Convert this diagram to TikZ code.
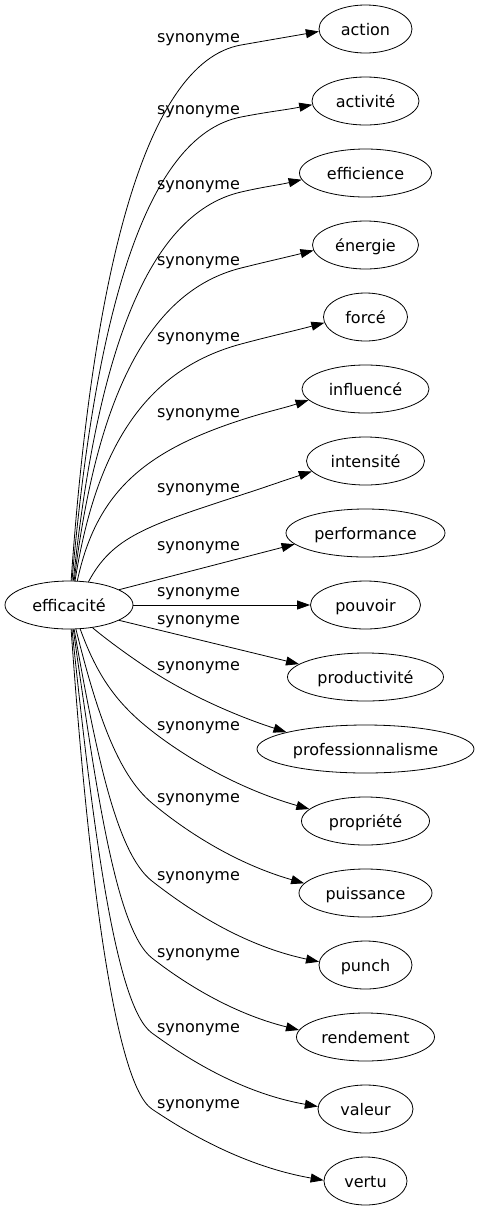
\documentclass[tikz,border=0pt]{standalone}
\usepackage{fontspec}
\setmainfont{DejaVu Sans}
\usetikzlibrary{arrows.meta,calc,shapes.geometric}

\begin{document}
\begin{tikzpicture}[x=1pt, y=1pt,
    word/.style={ellipse, draw, line width=0.8pt, inner sep=0pt,
                 minimum height=48pt, text height=15pt, text depth=3pt,
                 font=\fontsize{16}{19}\selectfont},
    lbl/.style={inner sep=0pt, font=\fontsize{16}{19}\selectfont},
    edge/.style={-{Triangle[length=13pt,width=9pt]}, line width=0.8pt}]
  \useasboundingbox (0,0) rectangle (479,-1211);
  % central word
  \node[word, minimum width=128pt] (src) at (69,-605) {efficacité};
  % synonyms, one row every 72pt
  \foreach \i/\txt/\w in {0/action/93, 1/activité/107, 2/efficience/132,
      3/énergie/106, 4/forcé/84, 5/influencé/127, 6/intensité/118,
      7/performance/159, 8/pouvoir/110, 9/productivité/156,
      10/professionnalisme/217, 11/propriété/128, 12/puissance/133,
      13/punch/93, 14/rendement/138, 15/valeur/95, 16/vertu/83}{
    \node[word, minimum width=\w pt] (t\i) at (365.5,-29-72*\i) {\txt};
  }
  % edges going up
  \foreach \i/\ly/\sa/\ao/\ta/\ea in {0/40/85/86/10/183, 1/112/83/85/11/184,
      2/187/80/84/13/186, 3/263/78/83/14/186, 4/339/76/81/15/188,
      5/415/71/78/18/191, 6/490/50/62/18/191}{
    \pgfmathsetmacro\dout{0.55*(582-\ly)}
    \pgfmathsetmacro\tin{180+\ta}
    \node[lbl] (l\i) at (198.5,-\ly) {synonyme};
    \draw[edge] (src.\sa) .. controls +(\ao:\dout pt) and +(\tin:100pt)
      .. ($(l\i.east)+(1,-5)$) to[out=\ta, in=\tin] (t\i.\ea);
  }
  % nearly straight edges
  \foreach \i/\ly/\sa/\ea in {7/548/17/189, 8/594/0/180, 9/622/-17/169}{
    \node[lbl] (l\i) at (198.5,-\ly) {synonyme};
    \draw[edge] (src.\sa) -- (t\i.\ea);
  }
  % edges going down
  \foreach \i/\ly/\sa/\ao/\tw/\ta/\ea in {10/668/-44/-40/-33/18/168,
      11/728/-65/-70/-38/16/168, 12/800/-74/-76/-40/16/171,
      13/878/-78/-80/-38/12/176, 14/955/-80/-82/-38/14/174,
      15/1030/-83/-84/-36/10/177, 16/1106/-85/-86/-34/10/179}{
    \pgfmathsetmacro\dout{0.5*(\ly-628)}
    \pgfmathsetmacro\din{min(45,0.6*(\ly-628))}
    \pgfmathsetmacro\back{180+\tw}
    \pgfmathsetmacro\tin{180-\ta}
    \node[lbl] (l\i) at (198.5,-\ly) {synonyme};
    \draw[edge] (src.\sa) .. controls +(\ao:\dout pt) and +(\back:\din pt)
      .. ($(l\i.west)+(-5,-3)$) to[out=\tw, in=\tin, out looseness=0.6,
      in looseness=1.1] (t\i.\ea);
  }
\end{tikzpicture}
\end{document}
